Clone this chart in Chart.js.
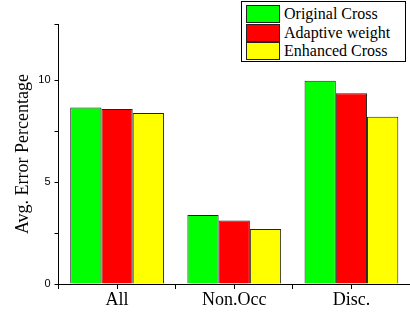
<!DOCTYPE html>
<html>
<head>
<meta charset="utf-8">
<script src="https://cdn.jsdelivr.net/npm/chart.js@4"></script>
<style>
  body { margin: 0; background: #fff; }
  #wrap { position: relative; width: 410px; height: 316px; }
  #leyenda {
    position: absolute; left: 241px; top: 1px; width: 163px; height: 59px;
    border: 1px solid #000; background: #fff;
    font-family: "Liberation Serif", serif; font-size: 16px; color: #000;
  }
  .fila { position: absolute; left: 4px; height: 18px; line-height: 18px; white-space: nowrap; }
  .caja { display: inline-block; width: 32px; height: 16px; border: 1px solid #222; vertical-align: top; margin-right: 4px; }
</style>
</head>
<body>
<div id="wrap">
  <canvas id="myChart" width="410" height="316"></canvas>
  <div id="leyenda"></div>
</div>
<script>
// datos
const categorias = ["All", "Non.Occ", "Disc."];
const originalCross = [8.66, 3.38, 9.97];
const adaptiveWeight = [8.58, 3.12, 9.36];
const enhancedCross = [8.38, 2.7, 8.2];
const nombresSeries = ["Original Cross", "Adaptive weight", "Enhanced Cross"];
const coloresSeries = ["#00ff00", "#ff0000", "#ffff00"];
const ticksY = [0, 5, 10];

const series = [originalCross, adaptiveWeight, enhancedCross];

// leyenda en html, arriba a la derecha
const leyenda = document.getElementById("leyenda");
nombresSeries.forEach((nombre, i) => {
  const fila = document.createElement("div");
  fila.className = "fila";
  fila.style.top = (3 + i * 18.5) + "px";
  fila.innerHTML = `<span class="caja" style="background:${coloresSeries[i]}"></span>${nombre}`;
  leyenda.appendChild(fila);
});

// marcas en el centro de cada categoria (las del borde las pone chart.js)
const marcasCentro = {
  id: "marcasCentro",
  afterDraw(chart) {
    const x = chart.scales.x;
    const ctx = chart.ctx;
    ctx.save();
    ctx.strokeStyle = "#000";
    ctx.lineWidth = 1;
    categorias.forEach((c, i) => {
      const px = Math.round(x.getPixelForValue(i)) + 0.5;
      ctx.beginPath();
      ctx.moveTo(px, x.top);
      ctx.lineTo(px, x.top + 5);
      ctx.stroke();
    });
    ctx.restore();
  }
};

const grafica = document.getElementById("myChart");
const myChart = new Chart(grafica, {
  type: "bar",
  data: {
    labels: categorias,
    datasets: series.map((valores, i) => ({
      label: nombresSeries[i],
      data: valores,
      backgroundColor: coloresSeries[i],
      borderColor: "#222",
      borderWidth: 1,
      categoryPercentage: 0.8,
      barPercentage: 1.0,
    })),
  },
  options: {
    responsive: false,
    animation: false,
    layout: { padding: { top: 24, right: 0, left: 0, bottom: 0 } },
    plugins: {
      legend: { display: false },
      tooltip: { enabled: false },
    },
    scales: {
      x: {
        grid: { drawOnChartArea: false, offset: true, color: "#000", tickLength: 5 },
        border: { color: "#000", width: 1 },
        ticks: {
          color: "#000",
          padding: 0,
          maxRotation: 0,
          font: { family: "Liberation Serif", size: 18 },
        },
        afterFit: (scale) => { scale.height = 32; },
      },
      y: {
        min: 0,
        max: 12.75,
        grid: { drawOnChartArea: false, color: "#000", tickLength: 4 },
        border: { color: "#000", width: 1 },
        ticks: {
          stepSize: 2.5,
          color: "#000",
          padding: 4,
          font: { family: "Liberation Sans", size: 11 },
          callback: (v) => (ticksY.includes(v) ? v : ""),
        },
        title: {
          display: true,
          text: "Avg. Error Percentage",
          color: "#000",
          font: { family: "Liberation Serif", size: 18 },
          padding: { top: 12, bottom: 0 },
        },
        afterFit: (scale) => { scale.width = 58.5; },
      },
    },
  },
  plugins: [marcasCentro],
});
</script>
</body>
</html>
